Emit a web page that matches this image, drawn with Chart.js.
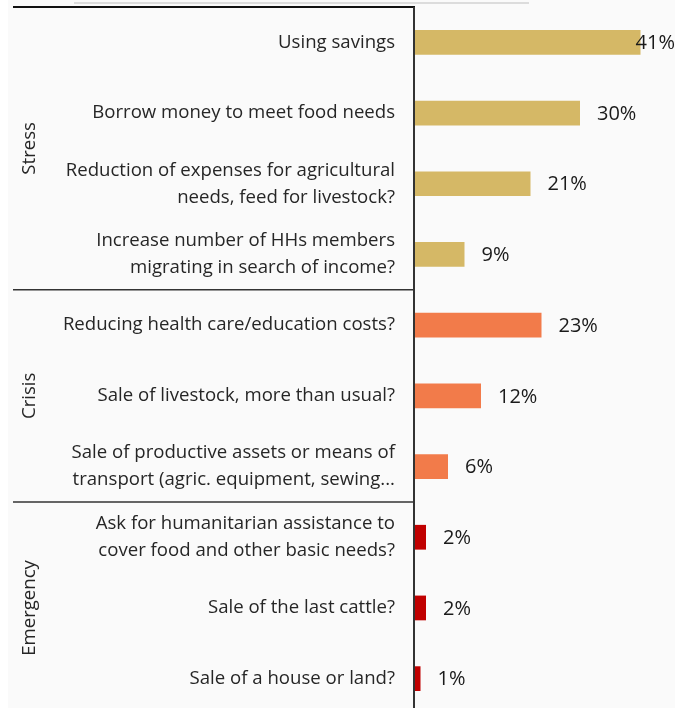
<!DOCTYPE html>
<html>
<head>
<meta charset="utf-8">
<script src="https://cdn.jsdelivr.net/npm/chart.js@4/dist/chart.umd.min.js"></script>
<style>
  html, body { margin: 0; padding: 0; background: #fff; overflow: hidden; }
  #wrap { position: relative; width: 675px; height: 714px; }
</style>
</head>
<body>
<div id="wrap"><canvas id="copingChart" width="675" height="714"></canvas></div>
<script>
// Coping strategies, share of households (%)
const strategies = [
    ['Using savings'],
    ['Borrow money to meet food needs'],
    ['Reduction of expenses for agricultural', 'needs, feed for livestock?'],
    ['Increase number of HHs members', 'migrating in search of income?'],
    ['Reducing health care/education costs?'],
    ['Sale of livestock, more than usual?'],
    ['Sale of productive assets or means of', 'transport (agric. equipment, sewing...'],
    ['Ask for humanitarian assistance to', 'cover food and other basic needs?'],
    ['Sale of the last cattle?'],
    ['Sale of a house or land?']
];
const shares = [41, 30, 21, 9, 23, 12, 6, 2, 2, 1];
const severity = ['Stress', 'Stress', 'Stress', 'Stress', 'Crisis', 'Crisis', 'Crisis', 'Emergency', 'Emergency', 'Emergency'];
const groupNames = ['Stress', 'Crisis', 'Emergency'];

const severityColors = {
    Stress: '#d5b866',
    Crisis: '#f27b4a',
    Emergency: '#c00000'
};

const FONT = "'Open Sans', sans-serif";
const AXIS_LEFT = 415;

// Panel background, frame lines and group labels
const framePlugin = {
    id: 'frame',
    beforeDraw(chart) {
        const ctx = chart.ctx;
        const area = chart.chartArea;
        const yScale = chart.scales.y;
        ctx.save();
        ctx.fillStyle = '#fafafa';
        ctx.fillRect(8, 0, chart.width - 8, chart.height);

        // thin grey rule at the very top
        ctx.strokeStyle = '#dcdcdc';
        ctx.lineWidth = 2;
        ctx.beginPath();
        ctx.moveTo(74, 3);
        ctx.lineTo(529, 3);
        ctx.stroke();

        const half = (yScale.getPixelForValue(1) - yScale.getPixelForValue(0)) / 2;
        ctx.strokeStyle = '#111';
        ctx.lineWidth = 2;
        ctx.beginPath();
        ctx.moveTo(13, area.top);
        ctx.lineTo(area.left, area.top);
        ctx.stroke();

        // dividers between severity groups, plus rotated group names
        ctx.font = '18.6px ' + FONT;
        ctx.fillStyle = '#262626';
        ctx.textAlign = 'center';
        ctx.textBaseline = 'middle';
        groupNames.forEach(name => {
            const first = severity.indexOf(name);
            const last = severity.lastIndexOf(name);
            const top = yScale.getPixelForValue(first) - half;
            const bottom = yScale.getPixelForValue(last) + half;
            if (first > 0) {
                ctx.strokeStyle = '#333';
                ctx.lineWidth = 1.5;
                ctx.beginPath();
                ctx.moveTo(13, top);
                ctx.lineTo(area.left, top);
                ctx.stroke();
            }
            ctx.save();
            ctx.translate(30, (top + bottom) / 2);
            ctx.rotate(-Math.PI / 2);
            ctx.fillText(name, 0, 0);
            ctx.restore();
        });
        ctx.restore();
    },
    afterDatasetsDraw(chart) {
        const ctx = chart.ctx;
        const area = chart.chartArea;
        ctx.save();
        ctx.strokeStyle = '#333';
        ctx.lineWidth = 2;
        ctx.beginPath();
        ctx.moveTo(area.left - 1, area.top);
        ctx.lineTo(area.left - 1, chart.height);
        ctx.stroke();

        // value labels to the right of each bar
        ctx.font = '20px ' + FONT;
        ctx.fillStyle = '#1a1a1a';
        ctx.textBaseline = 'middle';
        ctx.textAlign = 'left';
        chart.getDatasetMeta(0).data.forEach((bar, i) => {
            const text = shares[i] + '%';
            const w = ctx.measureText(text).width;
            const x = Math.min(bar.x + 17, chart.width - w);
            ctx.fillText(text, x, bar.y + 1);
        });
        ctx.restore();
    }
};

new Chart(document.getElementById('copingChart'), {
    type: 'bar',
    data: {
        labels: strategies,
        datasets: [{
            data: shares,
            backgroundColor: severity.map(s => severityColors[s]),
            borderWidth: 0,
            categoryPercentage: 1,
            barPercentage: 0.35
        }]
    },
    options: {
        indexAxis: 'y',
        responsive: false,
        animation: false,
        layout: { padding: { top: 7, right: 0, bottom: 0, left: 0 } },
        plugins: {
            legend: { display: false },
            tooltip: { enabled: false }
        },
        scales: {
            x: {
                display: false,
                min: 0,
                max: 260 / 5.5
            },
            y: {
                afterFit(scale) {
                    scale.width = AXIS_LEFT;
                    scale.paddingTop = 0;
                    scale.paddingBottom = 0;
                },
                grid: { display: false, drawTicks: false },
                border: { display: false },
                ticks: {
                    padding: 20,
                    color: '#262626',
                    font: { family: FONT, size: 18.6, lineHeight: 1.45 }
                }
            }
        }
    },
    plugins: [framePlugin]
});
</script>
</body>
</html>
